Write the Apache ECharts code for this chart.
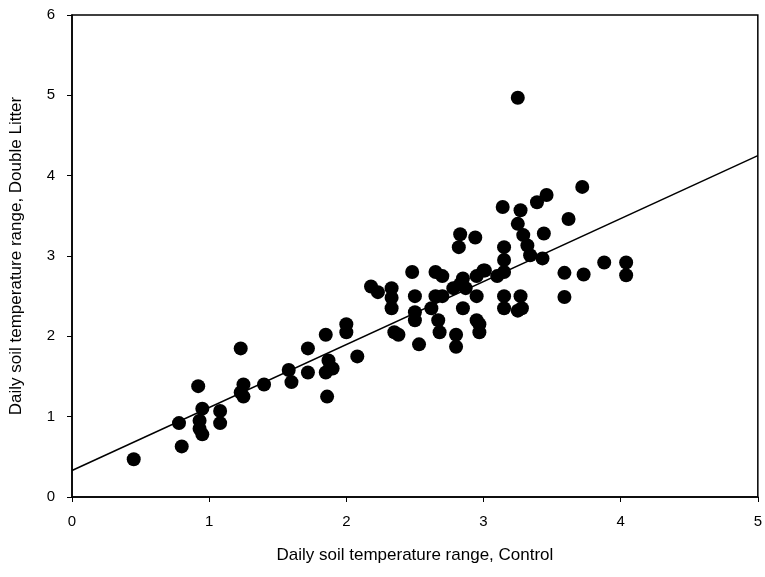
<!DOCTYPE html>
<html>
<head>
<meta charset="utf-8">
<script src="https://cdn.jsdelivr.net/npm/echarts@6/dist/echarts.min.js"></script>
<style>
  html, body { margin: 0; padding: 0; background: #fff; }
  #chart { width: 765px; height: 577px; }
</style>
</head>
<body>
<div id="chart"></div>
<script>
// control (x) vs double litter (y)
var controlX = [
  0.45, 0.78, 0.8, 0.92, 0.93, 0.95, 0.93, 0.95, 1.08, 1.08,
  1.23, 1.25, 1.23, 1.25, 1.4, 1.58, 1.6, 1.72, 1.72, 1.85,
  1.87, 1.85, 1.88, 1.9, 1.86, 2.0, 2.0, 2.08, 2.18, 2.23,
  2.33, 2.33, 2.33, 2.35, 2.38, 2.48, 2.5, 2.5, 2.5, 2.53,
  2.62, 2.65, 2.65, 2.67, 2.68, 2.7, 2.7, 2.78, 2.83, 2.82,
  2.8, 2.8, 2.83, 2.85, 2.85, 2.87, 2.94, 2.95, 2.95, 2.95,
  2.97, 2.97, 3.0, 3.1, 3.14, 3.15, 3.15, 3.15, 3.15, 3.15,
  3.25, 3.27, 3.25, 3.29, 3.27, 3.25, 3.28, 3.32, 3.34, 3.01,
  3.39, 3.46, 3.44, 3.43, 3.59, 3.59, 3.62, 3.72, 3.73, 3.88,
  4.04, 4.04
];
var litterY = [
  0.47, 0.92, 0.63, 1.38, 0.95, 1.1, 0.85, 0.78, 1.07, 0.92,
  1.85, 1.4, 1.3, 1.25, 1.4, 1.58, 1.43, 1.85, 1.55, 2.02,
  1.7, 1.55, 1.6, 1.6, 1.25, 2.15, 2.05, 1.75, 2.62, 2.55,
  2.6, 2.48, 2.35, 2.05, 2.02, 2.8, 2.5, 2.3, 2.2, 1.9,
  2.35, 2.8, 2.5, 2.2, 2.05, 2.75, 2.5, 2.6, 3.27, 3.11,
  2.02, 1.87, 2.65, 2.35, 2.72, 2.6, 3.23, 2.75, 2.5, 2.2,
  2.15, 2.05, 2.82, 2.75, 3.61, 3.11, 2.95, 2.8, 2.5, 2.35,
  4.97, 3.57, 3.4, 3.26, 2.5, 2.32, 2.35, 3.13, 3.01, 2.82,
  3.67, 3.76, 3.28, 2.97, 2.79, 2.49, 3.46, 3.86, 2.77, 2.92,
  2.92, 2.76
];
// fitted line end points
var fitX = [0, 5];
var fitY = [0.33, 4.25];

var xTicks = [0, 1, 2, 3, 4, 5];
var yTicks = [0, 1, 2, 3, 4, 5, 6];

var pts = controlX.map(function (x, i) { return [x, litterY[i]]; });
var fit = fitX.map(function (x, i) { return [x, fitY[i]]; });

var chart = echarts.init(document.getElementById('chart'));
chart.setOption({
  animation: false,
  textStyle: { fontFamily: 'Liberation Sans, Arial, sans-serif', color: '#000' },
  grid: {
    left: 72, right: 3, top: 15, bottom: 80,
    show: true, borderColor: '#000', borderWidth: 1.5, backgroundColor: '#fff'
  },
  xAxis: {
    type: 'value', min: 0, max: 5, interval: 1,
    name: 'Daily soil temperature range, Control',
    nameLocation: 'middle', nameGap: 50,
    nameTextStyle: { fontSize: 17, color: '#000' },
    axisLine: { show: true, lineStyle: { color: '#000', width: 1.5 } },
    axisTick: { show: true, length: 5, lineStyle: { color: '#000' } },
    axisLabel: { fontSize: 15, color: '#000', margin: 17,
      formatter: function (v) { return xTicks.indexOf(v) >= 0 ? String(v) : ''; } },
    splitLine: { show: false }
  },
  yAxis: {
    type: 'value', min: 0, max: 6, interval: 1,
    name: 'Daily soil temperature range, Double Litter',
    nameLocation: 'middle', nameGap: 47, nameRotate: 90,
    nameTextStyle: { fontSize: 17, color: '#000' },
    axisLine: { show: true, lineStyle: { color: '#000', width: 1.5 } },
    axisTick: { show: true, length: 5, lineStyle: { color: '#000' } },
    axisLabel: { fontSize: 15, color: '#000', margin: 17,
      formatter: function (v) { return yTicks.indexOf(v) >= 0 ? String(v) : ''; } },
    splitLine: { show: false }
  },
  series: [
    {
      type: 'line', data: fit, symbol: 'none',
      lineStyle: { color: '#000', width: 1.5 }, z: 1
    },
    {
      type: 'scatter', data: pts, symbol: 'circle', symbolSize: 14,
      itemStyle: { color: '#000', opacity: 1 }, z: 2
    }
  ]
});
</script>
</body>
</html>
